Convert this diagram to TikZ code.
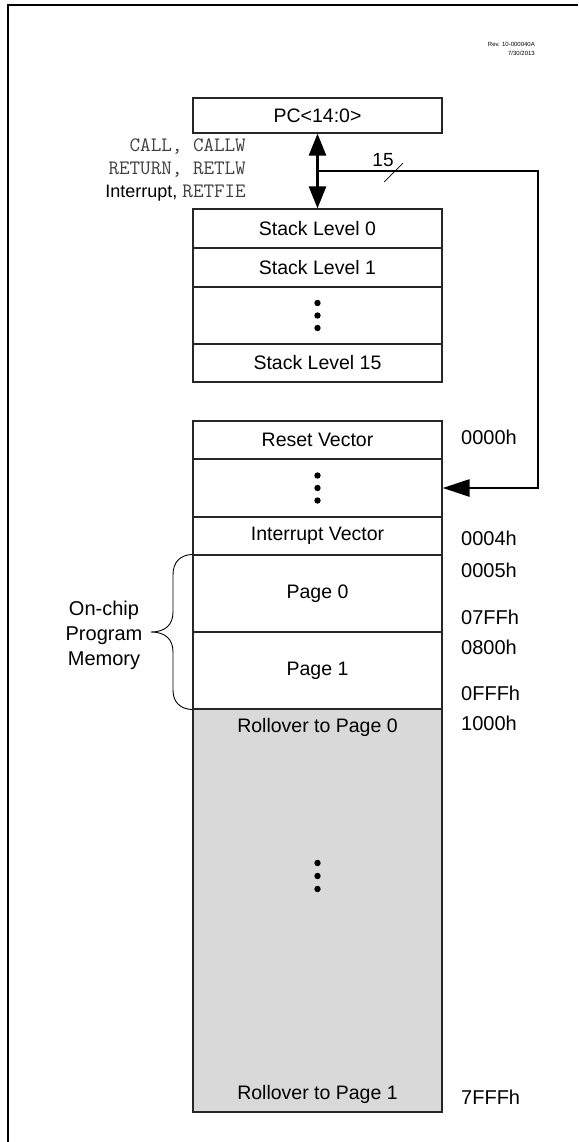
\documentclass[tikz,border=0pt]{standalone}
\usepackage{fontspec}
\setmainfont{Liberation Sans}
\usetikzlibrary{arrows.meta}
\definecolor{memgray}{HTML}{D9D9D9}
\newcommand{\codetxt}[1]{{\ttfamily\fontsize{20.5}{24}\selectfont\color{black!75}#1}}
\tikzset{
  box/.style={draw=black!85, line width=1.2pt, minimum width=249pt, inner sep=0pt, font=\fontsize{19.5}{23}\selectfont},
  addr/.style={anchor=west, inner sep=0pt, font=\fontsize{20}{24}\selectfont},
  code/.style={anchor=east, inner sep=0pt, font=\fontsize{18}{22}\selectfont},
  bus/.style={line width=2.6pt},
  dotmark/.style={fill=black},
}
\begin{document}
\begin{tikzpicture}[x=1pt,y=-1pt]
\useasboundingbox (0,0) rectangle (578,1142);
% outer frame (partial)
\draw[line width=2pt] (8,1142) -- (8,5) -- (578,5);
% revision text
\node[anchor=east, inner sep=0pt, align=right, font=\fontsize{6}{9.5}\selectfont] (rev) at (535,49) {Rev. 10-000040A\\7/30/2013};
% PC box
\node[box, minimum height=35pt] (pc) at (317.5,115.5) {PC<14:0>};
% stack
\node[box, minimum height=39pt] (s0) at (317.5,228.5) {Stack Level 0};
\node[box, minimum height=39pt] (s1) at (317.5,267.5) {Stack Level 1};
\node[box, minimum height=57pt] (sd) at (317.5,315.5) {};
\node[box, minimum height=38pt] (s15) at (317.5,363) {Stack Level 15};
\fill[dotmark] (sd.center) ++(0,-12.5) circle (3.2) (sd.center) circle (3.2) (sd.center) ++(0,12.5) circle (3.2);
% memory
\node[box, minimum height=38pt] (rv) at (317.5,440) {Reset Vector};
\node[box, minimum height=58pt] (md) at (317.5,488) {};
\node[box, minimum height=38pt] (iv) at (317.5,536) {Interrupt Vector};
\node[box, minimum height=77pt] (p0) at (317.5,593.5) {Page 0};
\node[box, minimum height=77pt] (p1) at (317.5,670.5) {Page 1};
\node[box, minimum height=403pt, fill=memgray] (gr) at (317.5,910.5) {};
\fill[dotmark] (md.center) ++(0,-12.5) circle (3.2) (md.center) circle (3.2) (md.center) ++(0,12.5) circle (3.2);
\fill[dotmark] (317.5,863) circle (3.2) (317.5,876) circle (3.2) (317.5,889) circle (3.2);
\node[inner sep=0pt, font=\fontsize{19.5}{23}\selectfont] (r0) at (317.5,727) {Rollover to Page 0};
\node[inner sep=0pt, font=\fontsize{19.5}{23}\selectfont] (r1) at (317.5,1094) {Rollover to Page 1};
% addresses
\node[addr] (a0000) at (461,437) {0000h};
\node[addr] (a0004) at (461,538) {0004h};
\node[addr] (a0005) at (461,570) {0005h};
\node[addr] (a07FF) at (461,617) {07FFh};
\node[addr] (a0800) at (461,647) {0800h};
\node[addr] (a0FFF) at (461,693) {0FFFh};
\node[addr] (a1000) at (461,723) {1000h};
\node[addr] (a7FFF) at (461,1097) {7FFFh};
% instruction labels
\node[code] (l1) at (246,147) {\codetxt{CALL, CALLW}};
\node[code] (l2) at (246,170) {\codetxt{RETURN, RETLW}};
\node[code] (l3) at (246,193) {Interrupt, \codetxt{RETFIE}};
% bidirectional arrow
\draw[bus, {Triangle[length=22pt,width=17pt]}-{Triangle[length=22pt,width=17pt]}] (pc.south) -- (s0.north);
\coordinate (j) at (317.5,171);
\coordinate (c1) at (538,171);
\coordinate (c2) at (538,488);
\draw[bus, -{Triangle[length=27pt,width=17pt]}] (j) -- (c1) -- (c2) -- (md.east);
% bus width mark
\draw[line width=0.7pt] (384,182) -- (403,163);
\node[inner sep=0pt, font=\fontsize{19}{23}\selectfont] (w15) at (383,160) {15};
% brace
\draw[line width=0.9pt] (p0.north west) .. controls (180,555) and (173,562) .. (173,575)
  -- (173,612) .. controls (173,625) and (165,632) .. (151,632)
  .. controls (165,632) and (173,639) .. (173,652)
  -- (173,690) .. controls (173,702) and (180,709) .. (p1.south west);
\node[inner sep=0pt, align=center, font=\fontsize{20}{25}\selectfont] (ocpm) at (104,635) {On-chip\\Program\\Memory};
\end{tikzpicture}
\end{document}
